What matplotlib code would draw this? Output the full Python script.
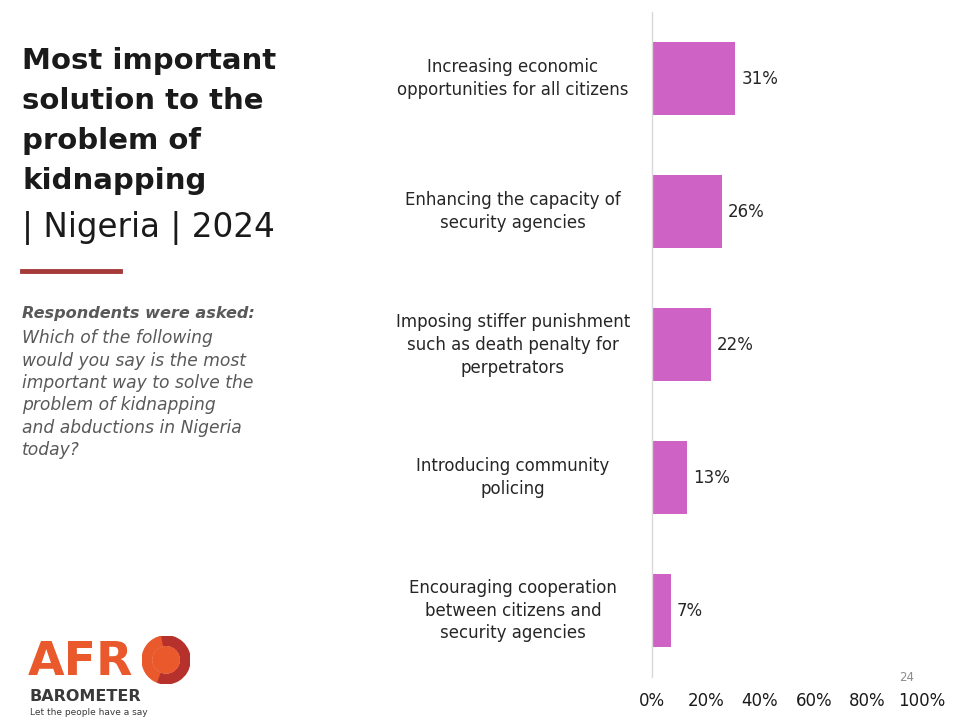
import matplotlib
matplotlib.use("Agg")
import matplotlib.pyplot as plt
from matplotlib.patches import Wedge

categories = [
    "Increasing economic\nopportunities for all citizens",
    "Enhancing the capacity of\nsecurity agencies",
    "Imposing stiffer punishment\nsuch as death penalty for\nperpetrators",
    "Introducing community\npolicing",
    "Encouraging cooperation\nbetween citizens and\nsecurity agencies",
]
values = [31, 26, 22, 13, 7]
ticks = [0, 20, 40, 60, 80, 100]

plt.rcParams["font.family"] = ["DejaVu Sans"]

fig = plt.figure(figsize=(9.6, 7.2), dpi=100)
ax = fig.add_axes([0.679, 0.0597, 0.281, 0.923])

y = list(range(len(categories)))
ax.barh(y, values, height=0.55, color="#cf62c5")
ax.set_ylim(len(categories) - 0.5, -0.5)
ax.set_xlim(0, 100)
for yi, v in zip(y, values):
    ax.text(v + 2.2, yi, f"{v}%", va="center", ha="left", fontsize=12, color="#262626")

ax.set_xticks(ticks)
ax.set_xticklabels([f"{t}%" for t in ticks], fontsize=12, color="#1a1a1a")
ax.tick_params(axis="x", length=0, pad=11)
ax.set_yticks([])
for s in ["top", "right", "bottom"]:
    ax.spines[s].set_visible(False)
ax.spines["left"].set_color("#d9d9d9")
ax.spines["left"].set_linewidth(1)

# category labels, centred left of the axis
for yi, c in zip(y, categories):
    ax.text(-51.5, yi, c, ha="center", va="center", fontsize=12,
            color="#262626", linespacing=1.35, clip_on=False)

# title block
fig.text(0.023, 0.935, "Most important\nsolution to the\nproblem of\nkidnapping",
         fontsize=21, fontweight="bold", color="#1a1a1a", va="top", ha="left",
         linespacing=1.55)
fig.text(0.023, 0.683, "| Nigeria | 2024", fontsize=23.5, color="#1a1a1a",
         va="center", ha="left")
fig.add_artist(plt.Line2D([0.023, 0.125], [0.623, 0.623], color="#a53a3a", lw=3.5))

fig.text(0.023, 0.575, "Respondents were asked:", fontsize=11.6, fontweight="bold",
         family="DejaVu Sans", style="oblique", color="#595959", va="top", ha="left")
fig.text(0.023, 0.543,
         "Which of the following\nwould you say is the most\nimportant way to solve the\n"
         "problem of kidnapping\nand abductions in Nigeria\ntoday?",
         fontsize=12.3, family="DejaVu Sans", style="oblique", color="#595959",
         va="top", ha="left", linespacing=1.32)

fig.text(0.937, 0.05, "24", fontsize=8.5, color="#8c8c8c", ha="left", va="bottom")

# logo
fig.text(0.029, 0.048, "AFR", fontsize=34, fontweight="bold", color="#e9592c",
         ha="left", va="bottom")
lax = fig.add_axes([0.148, 0.047, 0.05, 0.073])
lax.set_xlim(-1, 1)
lax.set_ylim(-1, 1)
lax.set_aspect("equal")
lax.axis("off")
lax.add_patch(Wedge((0, 0), 1.0, 100, 250, width=0.4, color="#e9592c"))
lax.add_patch(Wedge((0, 0), 1.0, 250, 460, width=0.4, color="#b7312c"))
lax.add_patch(Wedge((0, 0), 0.55, 0, 360, color="#e9592c"))
fig.text(0.031, 0.0325, "BAROMETER", fontsize=11.5, fontweight="bold", color="#3a3a3a",
         ha="left", va="center")
fig.text(0.031, 0.0105, "Let the people have a say", fontsize=6.5, color="#3a3a3a",
         ha="left", va="center")

fig.savefig("out.png", dpi=100)
